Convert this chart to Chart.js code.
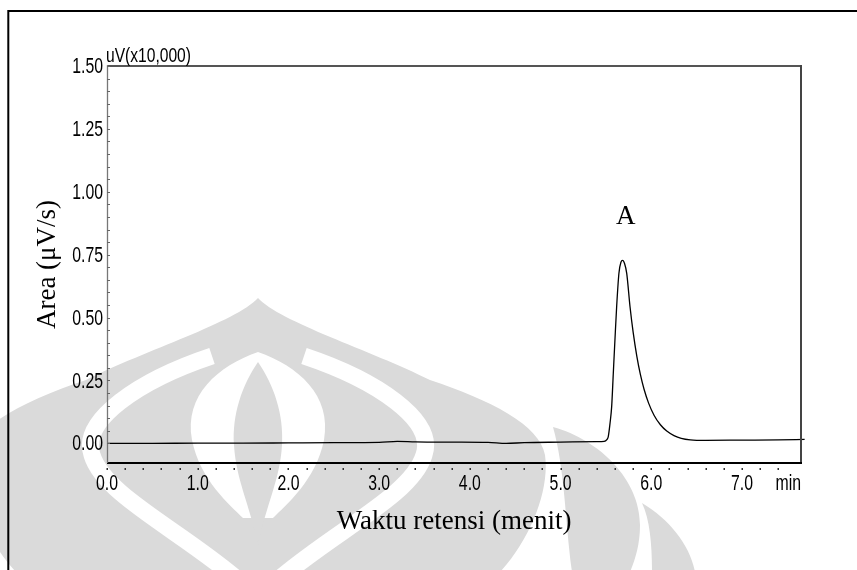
<!DOCTYPE html>
<html>
<head>
<meta charset="utf-8">
<script src="https://cdn.jsdelivr.net/npm/chart.js@4.4.0/dist/chart.umd.min.js"></script>
<style>
  html, body { margin: 0; padding: 0; background: #fff; }
</style>
</head>
<body>
<canvas id="chrom" width="857" height="570"></canvas>
<script>
// retention time (min) vs detector signal (uV x10,000)
const retTime = [0, 0.5, 1.0, 1.5, 2.0, 2.5, 3.0, 3.2, 3.4, 3.8, 4.2, 4.4, 4.6, 5.0, 5.4, 5.48,
  5.51, 5.525, 5.545, 5.563, 5.581, 5.599, 5.618, 5.643, 5.665, 5.684, 5.705, 5.729, 5.765,
  5.80, 5.84, 5.88, 5.92, 5.97, 6.03, 6.10, 6.17, 6.25, 6.33, 6.43, 6.6, 7.0, 7.4, 7.69];
const signal = [0.000, 0.000, 0.001, 0.001, 0.002, 0.003, 0.004, 0.008, 0.006, 0.005, 0.004, 0.000,
  0.003, 0.005, 0.007, 0.008, 0.015, 0.026, 0.080, 0.146, 0.279, 0.411, 0.544, 0.676, 0.720,
  0.727, 0.715, 0.676, 0.544, 0.441, 0.347, 0.273, 0.215, 0.160, 0.112, 0.074, 0.049, 0.031,
  0.020, 0.014, 0.012, 0.013, 0.014, 0.016];

const xRange = [0, 7.65];
const yRange = [-0.078, 1.5];
const xMinorStep = 0.2;
const xLabelStep = 1.0;
const yMinorStep = 0.05;
const yLabelStep = 0.25;
const peakName = 'A';
const unitText = 'uV(x10,000)';
const timeUnit = 'min';

const SANS = "'Liberation Sans', Arial, sans-serif";
const SERIF = "'Liberation Serif', 'Times New Roman', serif";
const SQUEEZE = 0.72;   // the instrument font is very narrow

const onStep = (v, step) => Math.abs(v / step - Math.round(v / step)) < 1e-6;
const xLabel = v => onStep(v, xLabelStep) ? v.toFixed(1) : '';
const yLabel = v => onStep(v, yLabelStep) ? v.toFixed(2) : '';

function narrowText(ctx, text, x, y, size, squeeze, align, baseline) {
  ctx.save();
  ctx.font = `${size}px ${SANS}`;
  ctx.textAlign = align;
  ctx.textBaseline = baseline;
  ctx.translate(x, y);
  ctx.scale(squeeze, 1);
  ctx.fillText(text, 0, 0);
  ctx.restore();
}

// faint logo behind the plot
const watermark = {
  id: 'watermark',
  beforeDraw(chart) {
    const ctx = chart.ctx;
    ctx.save();
    ctx.fillStyle = '#fff';
    ctx.fillRect(0, 0, chart.width, chart.height);
    const grey = '#dadada';
    ctx.fillStyle = grey;
    // dome
    ctx.beginPath();
    ctx.moveTo(258, 298);
    ctx.bezierCurveTo(280, 322, 370, 350, 430, 380);
    ctx.bezierCurveTo(490, 400, 540, 425, 545, 455);
    ctx.bezierCurveTo(550, 490, 530, 540, 500, 572);
    ctx.lineTo(16, 572);
    ctx.bezierCurveTo(-14, 540, -34, 490, -29, 455);
    ctx.bezierCurveTo(-24, 425, 26, 400, 86, 380);
    ctx.bezierCurveTo(146, 350, 236, 322, 258, 298);
    ctx.fill();
    // white sweeps
    ctx.strokeStyle = '#fff';
    ctx.lineWidth = 17;
    ctx.beginPath();
    ctx.moveTo(212, 356);
    ctx.bezierCurveTo(140, 380, 80, 420, 92, 455);
    ctx.bezierCurveTo(104, 495, 180, 530, 238, 580);
    ctx.moveTo(304, 356);
    ctx.bezierCurveTo(376, 380, 436, 420, 424, 455);
    ctx.bezierCurveTo(412, 495, 336, 530, 278, 580);
    ctx.stroke();
    // inner arch
    ctx.fillStyle = '#fff';
    ctx.beginPath();
    ctx.moveTo(258, 352);
    ctx.bezierCurveTo(218, 366, 184, 395, 192, 440);
    ctx.bezierCurveTo(200, 480, 230, 505, 243, 518);
    ctx.lineTo(273, 518);
    ctx.bezierCurveTo(286, 505, 316, 480, 324, 440);
    ctx.bezierCurveTo(332, 395, 298, 366, 258, 352);
    ctx.fill();
    // centre drop
    ctx.fillStyle = grey;
    ctx.beginPath();
    ctx.moveTo(258, 362);
    ctx.bezierCurveTo(242, 385, 232, 415, 234, 445);
    ctx.bezierCurveTo(236, 480, 250, 505, 258, 545);
    ctx.bezierCurveTo(266, 505, 280, 480, 282, 445);
    ctx.bezierCurveTo(284, 415, 274, 385, 258, 362);
    ctx.fill();
    // right wing
    ctx.beginPath();
    ctx.moveTo(553, 427);
    ctx.bezierCurveTo(600, 440, 640, 480, 640, 525);
    ctx.bezierCurveTo(640, 545, 635, 560, 630, 572);
    ctx.lineTo(572, 572);
    ctx.bezierCurveTo(565, 520, 565, 470, 553, 427);
    ctx.fill();
    ctx.beginPath();
    ctx.moveTo(642, 503);
    ctx.bezierCurveTo(670, 520, 690, 545, 695, 572);
    ctx.lineTo(652, 572);
    ctx.bezierCurveTo(652, 545, 650, 520, 642, 503);
    ctx.fill();
    ctx.restore();
  }
};

// plot frame, small ticks and tick labels
const decorations = {
  id: 'decorations',
  afterDraw(chart) {
    const { ctx, chartArea: a, scales: { x, y } } = chart;
    ctx.save();

    // outer border
    ctx.strokeStyle = '#000';
    ctx.lineWidth = 2;
    ctx.beginPath();
    ctx.moveTo(8.3, chart.height + 2);
    ctx.lineTo(8.3, 11);
    ctx.lineTo(chart.width + 2, 11);
    ctx.stroke();

    // frame
    ctx.lineWidth = 2;
    ctx.strokeStyle = '#555';
    ctx.beginPath();
    ctx.moveTo(a.left, a.top);
    ctx.lineTo(a.right, a.top);
    ctx.stroke();
    ctx.strokeStyle = '#444';
    ctx.beginPath();
    ctx.moveTo(a.right, a.top - 1);
    ctx.lineTo(a.right, a.bottom);
    ctx.stroke();
    ctx.strokeStyle = '#000';
    ctx.beginPath();
    ctx.moveTo(a.left, a.bottom);
    ctx.lineTo(a.right + 1, a.bottom);
    ctx.stroke();
    ctx.strokeStyle = '#777';
    ctx.lineWidth = 1.3;
    ctx.beginPath();
    ctx.moveTo(a.left + 0.5, a.top - 1);
    ctx.lineTo(a.left + 0.5, a.bottom);
    ctx.stroke();

    // y ticks inside the frame, labels to the left
    ctx.strokeStyle = '#666';
    ctx.lineWidth = 1;
    ctx.fillStyle = '#000';
    y.ticks.forEach(t => {
      if (!onStep(t.value, yMinorStep) || t.value <= yRange[0]) return;
      const py = y.getPixelForValue(t.value);
      ctx.beginPath();
      ctx.moveTo(a.left, Math.round(py) + 0.5);
      ctx.lineTo(a.left + 3, Math.round(py) + 0.5);
      ctx.stroke();
      const lbl = yLabel(t.value);
      if (lbl) narrowText(ctx, lbl, a.left - 4, py + 1, 22, SQUEEZE, 'right', 'middle');
    });

    // x ticks as dots under the frame, labels below
    x.ticks.forEach(t => {
      if (!onStep(t.value, xMinorStep)) return;
      const px = x.getPixelForValue(t.value);
      ctx.fillStyle = '#333';
      ctx.fillRect(Math.round(px) - 0.5, a.bottom + 5, 1.5, 2);
      const lbl = xLabel(t.value);
      ctx.fillStyle = '#000';
      if (lbl) narrowText(ctx, lbl, px, a.bottom + 27, 22, SQUEEZE, 'center', 'alphabetic');
    });

    // units
    narrowText(ctx, unitText, a.left - 1, 62, 20, 0.78, 'left', 'alphabetic');
    narrowText(ctx, timeUnit, a.right, a.bottom + 27, 22, SQUEEZE, 'right', 'alphabetic');

    // peak label
    let iMax = 0;
    signal.forEach((v, i) => { if (v > signal[iMax]) iMax = i; });
    ctx.font = `27px ${SERIF}`;
    ctx.textAlign = 'center';
    ctx.textBaseline = 'alphabetic';
    ctx.fillText(peakName, x.getPixelForValue(retTime[iMax]) + 3, y.getPixelForValue(signal[iMax]) - 36);

    ctx.restore();
  }
};

new Chart(document.getElementById('chrom'), {
  type: 'line',
  data: {
    datasets: [{
      data: retTime.map((t, i) => ({ x: t, y: signal[i] })),
      borderColor: '#000',
      borderWidth: 1.3,
      pointRadius: 0,
      fill: false,
      cubicInterpolationMode: 'monotone',
      clip: { left: 0, top: 0, right: 5, bottom: 0 }
    }]
  },
  options: {
    responsive: false,
    animation: false,
    events: [],
    layout: { padding: { left: 0, right: 56, top: 66, bottom: 0 } },
    plugins: { legend: { display: false }, tooltip: { enabled: false } },
    scales: {
      x: {
        type: 'linear',
        min: xRange[0],
        max: xRange[1],
        grid: { display: false, drawTicks: false },
        border: { display: false },
        afterFit: s => { s.height = 107; },
        ticks: { display: false, stepSize: xMinorStep, autoSkip: false, callback: xLabel },
        title: {
          display: true,
          text: 'Waktu retensi (menit)',
          color: '#000',
          font: { family: SERIF, size: 27 },
          padding: { top: 0, bottom: 32 }
        }
      },
      y: {
        min: yRange[0],
        max: yRange[1],
        grid: { display: false, drawTicks: false },
        border: { display: false },
        afterFit: s => { s.width = 107; },
        ticks: { display: false, stepSize: yMinorStep, autoSkip: false, callback: yLabel },
        title: {
          display: true,
          text: 'Area (μV/s)',
          color: '#000',
          font: { family: SERIF, size: 27 },
          padding: { top: 32, bottom: 0 }
        }
      }
    }
  },
  plugins: [watermark, decorations]
});
</script>
</body>
</html>
